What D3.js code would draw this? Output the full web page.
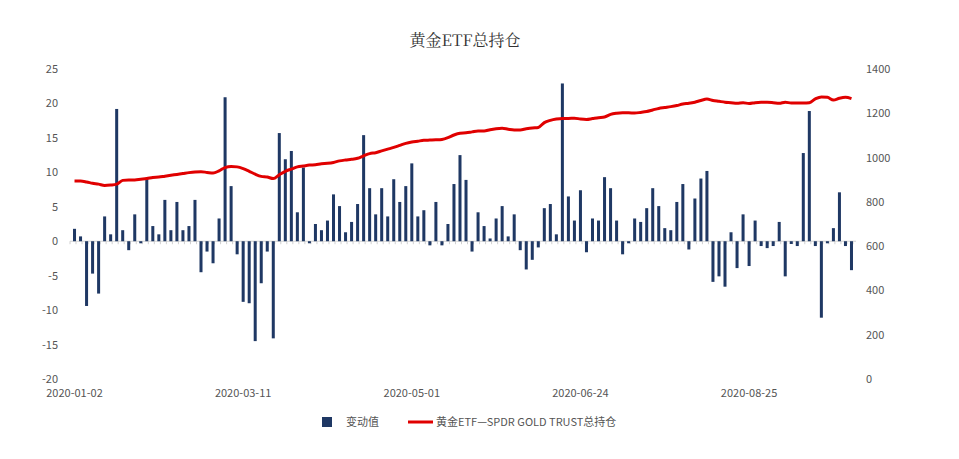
<!DOCTYPE html><html><head><meta charset="utf-8"><script src="https://cdn.jsdelivr.net/npm/d3@7"></script>
<style>body{margin:0;background:#fff}</style></head><body><svg id="c" width="959" height="459"></svg><script>
const changes=[1.8,0.7,-9.4,-4.7,-7.6,3.6,1.0,19.2,1.6,-1.3,3.9,-0.3,9.2,2.2,1.0,6.0,1.6,5.7,1.6,2.2,6.0,-4.5,-1.5,-3.2,3.3,20.9,8.0,-1.9,-8.8,-9.0,-14.5,-6.1,-1.5,-14.1,15.7,11.9,13.1,4.2,10.7,-0.3,2.5,1.6,3.0,
6.8,5.1,1.3,2.8,5.4,15.4,7.7,3.9,7.7,3.6,9.0,5.7,8.0,11.3,3.6,4.5,-0.6,5.7,-0.6,2.5,8.3,12.5,8.9,-1.5,4.2,2.2,0.4,3.3,5.1,0.7,3.9,-1.3,-4.1,-2.7,-0.9,4.8,5.4,1.0,22.9,6.5,3.0,7.4,-1.6,
3.3,3.0,9.3,7.7,3.0,-1.9,-0.3,3.3,2.8,4.8,7.7,5.1,1.9,1.6,5.7,8.3,-1.2,6.2,9.1,10.2,-5.9,-5.1,-6.6,1.3,-3.9,3.9,-3.6,3.0,-0.7,-1.0,-0.7,2.8,-5.1,-0.4,-0.7,12.8,18.9,-0.7,-11.1,-0.3,1.9,7.1,-0.7,-4.2];
const holdings=[894,894,890,884,880,874,876,880,897,899,899,902,905,910,912,916,920,924,928,932,935,936,933,930,940,955,960,958,950,938,925,915,912,905,922,938,948,958,962,966,968,972,974,
978,985,989,992,997,1008,1018,1022,1030,1038,1046,1055,1064,1070,1074,1078,1079,1080,1082,1090,1102,1110,1112,1116,1120,1120,1126,1130,1132,1128,1125,1125,1130,1134,1136,1158,1168,1174,1177,1177,1178,1174,1172,
1176,1180,1183,1195,1200,1202,1202,1201,1204,1208,1215,1222,1226,1230,1235,1242,1245,1250,1258,1264,1258,1254,1250,1248,1245,1248,1244,1248,1250,1250,1248,1245,1250,1246,1246,1246,1248,1265,1274,1272,1260,1268,1272,1266];
const tickLabels=["2020-01-02","2020-03-11","2020-05-01","2020-06-24","2020-08-25"];
const tickIdx=[0,28,56,84,112];
const leftTicks=[-20,-15,-10,-5,0,5,10,15,20,25];
const rightTicks=[0,200,400,600,800,1000,1200,1400];
const svg=d3.select("#c");
const font="'Microsoft YaHei','Noto Sans CJK SC',sans-serif";
const x=d3.scaleBand().domain(d3.range(changes.length)).range([70,856]).padding(0.5);
const yL=d3.scaleLinear().domain([-20,25]).range([379,69]);
const yR=d3.scaleLinear().domain([0,1400]).range([379,69]);
svg.append("text").attr("x",465).attr("y",46).attr("text-anchor","middle").attr("font-family","'Noto Serif CJK SC','Noto Sans CJK SC',serif").attr("font-size",16).attr("fill","#333").text("黄金ETF总持仓");
svg.selectAll(".lt").data(leftTicks).join("text").attr("x",58).attr("y",d=>yL(d)+4).attr("text-anchor","end").attr("font-family",font).attr("font-size",11).attr("fill","#555").text(d=>d);
svg.selectAll(".rt").data(rightTicks).join("text").attr("x",866).attr("y",d=>yR(d)+4).attr("font-family",font).attr("font-size",11).attr("fill","#555").text(d=>d);
svg.append("line").attr("x1",70).attr("x2",856).attr("y1",yL(0)).attr("y2",yL(0)).attr("stroke","#d0d0d0");
svg.selectAll(".tk").data(d3.range(changes.length+1)).join("line").attr("x1",d=>70+d*x.step()).attr("x2",d=>70+d*x.step()).attr("y1",yL(0)).attr("y2",yL(0)+3).attr("stroke","#d0d0d0");
svg.selectAll(".bar").data(changes).join("rect").attr("x",(d,i)=>x(i)).attr("width",x.bandwidth())
 .attr("y",d=>Math.min(yL(d),yL(0))).attr("height",d=>Math.abs(yL(d)-yL(0))).attr("fill","#1f3864");
svg.append("path").datum(holdings).attr("d",d3.line().x((d,i)=>x(i)+x.bandwidth()/2).y(d=>yR(d)).curve(d3.curveMonotoneX))
 .attr("fill","none").attr("stroke","#e00000").attr("stroke-width",3);
svg.selectAll(".xl").data(tickIdx).join("text").attr("x",d=>x(d)+x.bandwidth()/2).attr("y",397).attr("text-anchor","middle").attr("font-family",font).attr("font-size",11).attr("fill","#555").text((d,i)=>tickLabels[i]);
svg.append("rect").attr("x",322).attr("y",417).attr("width",10).attr("height",10).attr("fill","#1f3864");
svg.append("text").attr("x",346).attr("y",426).attr("font-family",font).attr("font-size",11).attr("fill","#555").text("变动值");
svg.append("line").attr("x1",408).attr("x2",433).attr("y1",422).attr("y2",422).attr("stroke","#e00000").attr("stroke-width",3);
svg.append("text").attr("x",436).attr("y",426).attr("font-family",font).attr("font-size",11).attr("fill","#555").text("黄金ETF—SPDR GOLD TRUST总持仓");
</script></body></html>
